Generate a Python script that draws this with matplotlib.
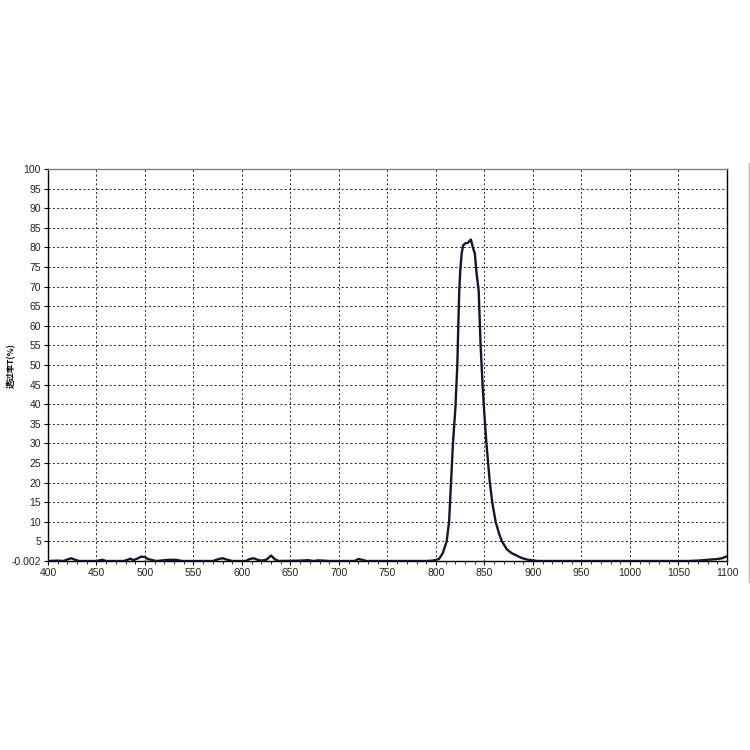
import numpy as np
import matplotlib
matplotlib.use('Agg')
import matplotlib.pyplot as plt
from matplotlib.lines import Line2D
from matplotlib.ticker import MultipleLocator

# wavelength (nm) and transmittance (%)
wavelength = [400, 410, 416, 420, 424, 428, 432, 450, 456, 460, 478, 482, 485, 488,
              492, 496, 500, 503, 508, 512, 520, 526, 532, 538, 570, 576, 580, 585,
              590, 604, 608, 612, 616, 620, 625, 630, 634, 638, 660, 668, 674, 678,
              684, 690, 716, 720, 724, 728, 790, 797, 803, 807, 811, 813.5, 815.5,
              817.5, 820, 822, 823, 824, 825, 826.5, 828, 830, 833, 836, 838, 840,
              842, 844, 846, 848, 850, 852, 855.5, 858, 861.5, 865, 868, 873, 878,
              888, 895, 905, 1060, 1070, 1080, 1090, 1095, 1100]
transmittance = [0, 0.1, 0, 0.4, 0.7, 0.3, 0, 0, 0.3, 0, 0, 0.3, 0.6, 0.2,
                 0.6, 1.1, 1.0, 0.5, 0.2, 0, 0.2, 0.3, 0.3, 0, 0, 0.5, 0.7, 0.3,
                 0, 0, 0.5, 0.7, 0.3, 0.1, 0.3, 1.4, 0.4, 0, 0.1, 0.2, 0, 0.15,
                 0.1, 0, 0, 0.5, 0.3, 0, 0, 0.1, 0.5, 2, 5, 10, 20,
                 30, 39, 50, 60, 69, 74, 78.5, 80.5, 81, 81.2, 82, 80, 78.5,
                 73, 69, 55, 45, 37, 30, 20, 15, 10, 7, 5, 3, 2,
                 0.8, 0.3, 0, 0, 0.1, 0.3, 0.5, 0.7, 1.2]

x_ticks = list(range(400, 1101, 50))
y_ticks = [-0.002] + list(range(5, 101, 5))
y_labels = ['-0.002'] + [str(v) for v in range(5, 101, 5)]

plt.rcParams['font.family'] = ['Liberation Sans', 'DejaVu Sans']

fig = plt.figure(figsize=(7.5, 7.5), dpi=100)
ax = fig.add_axes([0.064, 0.252, 0.9053, 0.5227])

ax.plot(wavelength, transmittance, color='#1c1030', lw=1.7, zorder=3)

ax.set_xlim(400, 1100)
ax.set_ylim(-0.002, 100)
ax.set_xticks(x_ticks)
ax.set_yticks(y_ticks)
ax.set_yticklabels(y_labels)
ax.xaxis.set_minor_locator(MultipleLocator(10))
ax.tick_params(axis='both', which='major', labelsize=7.5, length=3, width=0.8,
               color='black', labelcolor='#222222', pad=2)
ax.tick_params(axis='x', which='minor', length=2, width=0.6)

ax.grid(True, which='major', color='#222222', linestyle=(0, (2, 2.5)), lw=0.7)

for side in ['left', 'bottom', 'right']:
    ax.spines[side].set_color('black')
    ax.spines[side].set_linewidth(1.0)
ax.spines['top'].set_color('#808080')
ax.spines['top'].set_linewidth(1.0)

fig.text(0.015, 0.513, '透过率T(%)', rotation=90, ha='center', va='center',
         fontsize=6, fontweight='bold',
         family=['Noto Sans CJK SC', 'DejaVu Sans'])

# thin grey frame line at the right edge
fig.add_artist(Line2D([0.9985, 0.9985], [1 - 582 / 750, 1 - 163 / 750],
                      transform=fig.transFigure, color='#b8b8b8', lw=1.0))

fig.savefig('out.png', dpi=100)
